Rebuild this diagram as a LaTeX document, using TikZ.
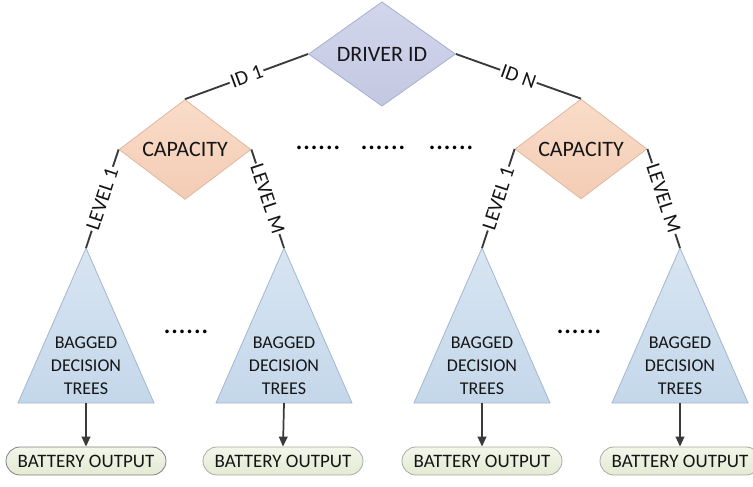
\documentclass[tikz,border=0pt]{standalone}
\usepackage{fontspec}
\setmainfont{Carlito}
\usetikzlibrary{shapes.geometric,arrows.meta}

\definecolor{linkgray}{HTML}{3A3A3A}
\definecolor{textgray}{HTML}{151515}
\definecolor{drivertop}{HTML}{D2D6EC}
\definecolor{driverbot}{HTML}{C3C8E2}
\definecolor{driverborder}{HTML}{A8AED0}
\definecolor{captop}{HTML}{F9DCC9}
\definecolor{capbot}{HTML}{F4CCB4}
\definecolor{capborder}{HTML}{DDB8A0}
\definecolor{treetop}{HTML}{D8E5F2}
\definecolor{treebot}{HTML}{C4D7EA}
\definecolor{treeborder}{HTML}{A3B7CD}
\definecolor{outtop}{HTML}{F3F6EA}
\definecolor{outbot}{HTML}{E4EAD4}
\definecolor{outborder}{HTML}{A9ABA2}

\tikzset{
  decision/.style={diamond, draw=#1, line width=0.6pt, inner sep=0pt,
    text=textgray, font=\fontsize{16.5}{20}\selectfont},
  driverbox/.style={decision=driverborder, top color=drivertop, bottom color=driverbot,
    minimum width=110.25pt, minimum height=69pt},
  capbox/.style={decision=capborder, top color=captop, bottom color=capbot,
    minimum width=99pt, minimum height=63.75pt},
  link/.style={draw=linkgray, line width=1.4pt},
  edgelabel/.style={sloped, pos=0.5, fill=white, inner sep=1pt, text=textgray,
    font=\fontsize{15.5}{18}\selectfont},
  treeshape/.style={draw=treeborder, line width=0.6pt, top color=treetop, bottom color=treebot},
  treetext/.style={align=center, inner sep=0pt, text=textgray,
    font=\fontsize{13.5}{17.25}\selectfont},
  outbox/.style={rectangle, rounded corners=10.5pt, draw=outborder, line width=0.6pt,
    top color=outtop, bottom color=outbot, minimum width=120pt, minimum height=21pt,
    inner sep=0pt, text=textgray, font=\fontsize{14.25}{17}\selectfont},
  flow/.style={draw=linkgray, line width=1.3pt, -{Triangle[length=7.5pt,width=6.5pt]}},
  gapdots/.style={anchor=base, inner sep=0pt, font=\fontsize{22.5}{24}\selectfont}
}

% one ensemble of bagged trees: name, x of apex
\newcommand{\baggedtree}[2]{%
  \coordinate (#1-apex) at (#2,248);
  \coordinate (#1-base) at (#2,403);
  \path[treeshape] (#1-apex) -- ({#2-68},403) -- ({#2+68},403) -- cycle;
  \node[treetext] (#1) at (#2,366) {BAGGED\\DECISION\\TREES};
}

\begin{document}
\begin{tikzpicture}[x=0.75pt,y=-0.75pt]
\useasboundingbox (0,0) rectangle (753,486);

% decision diamonds
\node[driverbox] (driver) at (382,54) {DRIVER ID};
\node[capbox] (capL) at (185,149.5) {CAPACITY};
\node[capbox] (capR) at (581,149) {CAPACITY};

% leaf ensembles
\baggedtree{t1}{86}
\baggedtree{t2}{284}
\baggedtree{t3}{482}
\baggedtree{t4}{680}

% branches
\draw[link] (driver.west) -- node[edgelabel]{ID 1} (capL.north);
\draw[link] (driver.east) -- node[edgelabel]{ID N} (capR.north);
\draw[link] (capL.west) -- node[edgelabel]{LEVEL 1} (t1-apex);
\draw[link] (capL.east) -- node[edgelabel]{LEVEL M} (t2-apex);
\draw[link] (capR.west) -- node[edgelabel]{LEVEL 1} (t3-apex);
\draw[link] (capR.east) -- node[edgelabel]{LEVEL M} (t4-apex);

% outputs
\node[outbox, draw=gray] (o1) at (86,461) {BATTERY OUTPUT};
\node[outbox] (o2) at (283,461) {BATTERY OUTPUT};
\node[outbox] (o3) at (482,461) {BATTERY OUTPUT};
\node[outbox] (o4) at (680,461) {BATTERY OUTPUT};

\draw[flow] (t1-base) -- (o1.north);
\draw[flow] (t2-base) -- (o2.north);
\draw[flow] (t3-base) -- (o3.north);
\draw[flow] (t4-base) -- (o4.north);

% ellipses for omitted branches
\node[gapdots] (gapA) at (318,149) {......};
\node[gapdots] (gapB) at (383,149) {......};
\node[gapdots] (gapC) at (451,149) {......};
\node[gapdots] (gapD) at (186,333) {......};
\node[gapdots] (gapE) at (579,333) {......};
\end{tikzpicture}
\end{document}
